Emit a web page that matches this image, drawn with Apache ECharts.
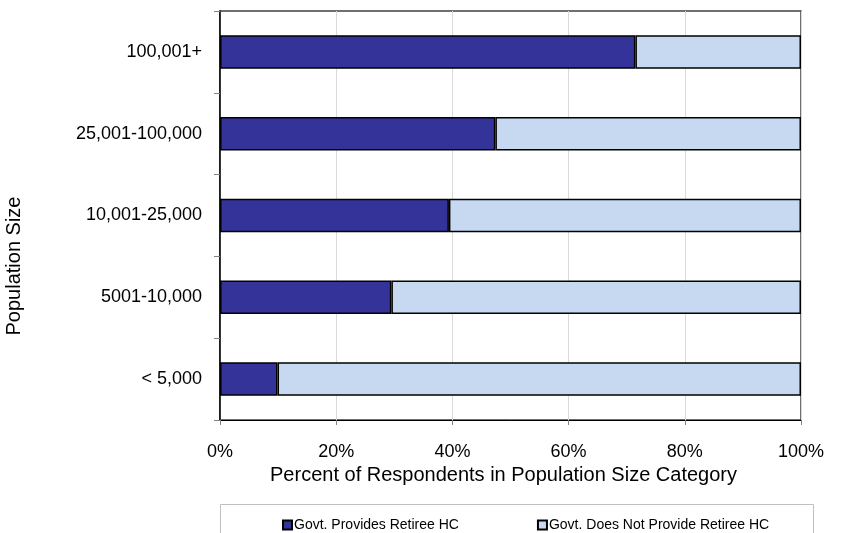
<!DOCTYPE html>
<html>
<head>
<meta charset="utf-8">
<script src="https://cdn.jsdelivr.net/npm/echarts@6/dist/echarts.min.js"></script>
<style>
  html, body { margin: 0; padding: 0; background: #fff; }
  #chart { width: 841px; height: 533px; }
</style>
</head>
<body>
<div id="chart"></div>
<script>
// Population size categories, bottom to top
const categories = ['< 5,000', '5001-10,000', '10,001-25,000', '25,001-100,000', '100,001+'];
// Percent of respondents whose government provides retiree health care
const providesHC = [9.9, 29.5, 39.4, 47.4, 71.5];
// Remainder of each category
const notProvideHC = [90.1, 70.5, 60.6, 52.6, 28.5];
const seriesNames = ['Govt. Provides Retiree HC', 'Govt. Does Not Provide Retiree HC'];
const xTicks = [0, 20, 40, 60, 80, 100];

const FONT = 'Liberation Sans, Arial, sans-serif';
const chart = echarts.init(document.getElementById('chart'), null, { renderer: 'canvas' });

chart.setOption({
  animation: false,
  backgroundColor: '#ffffff',
  textStyle: { fontFamily: FONT },
  grid: {
    left: 220, right: 40, top: 11, bottom: 113,
    show: true, borderColor: '#404040', borderWidth: 1.5, backgroundColor: 'transparent'
  },
  legend: {
    data: seriesNames,
    left: 277, top: 513,
    icon: 'rect', itemWidth: 9, itemHeight: 9, itemGap: 78,
    textStyle: { fontSize: 14, color: '#000', fontFamily: FONT, padding: [0, 0, 0, -3] }
  },
  graphic: [
    {
      type: 'rect', left: 220, top: 504, z: -1,
      shape: { width: 593, height: 40 },
      style: { fill: '#fff', stroke: '#c0c0c0', lineWidth: 1 }
    },
    {
      type: 'text', x: 14, y: 266, rotation: Math.PI / 2,
      style: { text: 'Population Size', fontSize: 20, fontFamily: FONT, fill: '#000',
               align: 'center', verticalAlign: 'middle' }
    }
  ],
  xAxis: {
    type: 'value', min: xTicks[0], max: xTicks[xTicks.length - 1], interval: 20,
    axisLine: { show: true, lineStyle: { color: '#000', width: 1 } },
    axisTick: { show: true, length: 5, lineStyle: { color: '#808080' } },
    splitLine: { show: true, lineStyle: { color: '#d9d9d9', width: 1 } },
    axisLabel: { formatter: '{value}%', fontSize: 18, color: '#000', margin: 23, fontFamily: FONT },
    name: 'Percent of Respondents in Population Size Category',
    nameLocation: 'middle', nameGap: 43,
    nameTextStyle: { fontSize: 20, color: '#000', fontFamily: FONT, padding: [0, 14, 0, 0] }
  },
  yAxis: {
    type: 'category', data: categories,
    axisLine: { show: true, lineStyle: { color: '#000', width: 1.5 } },
    axisTick: { show: true, length: 6, lineStyle: { color: '#808080' } },
    axisLabel: { fontSize: 18, color: '#000', margin: 18, fontFamily: FONT }
  },
  series: [
    {
      name: seriesNames[0], type: 'bar', stack: 'total', data: providesHC,
      barWidth: '41%',
      itemStyle: { color: '#333399', borderColor: '#000', borderWidth: 1.5 }
    },
    {
      name: seriesNames[1], type: 'bar', stack: 'total', data: notProvideHC,
      barWidth: '41%',
      itemStyle: { color: '#c6d9f0', borderColor: '#000', borderWidth: 1.5 }
    }
  ]
});
</script>
</body>
</html>
